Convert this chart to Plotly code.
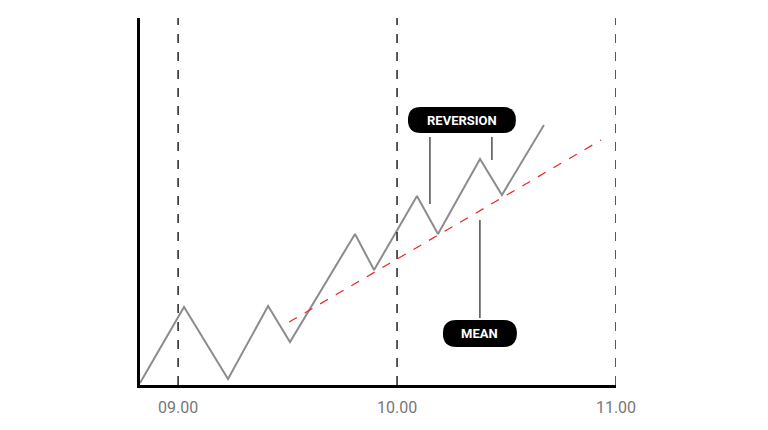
import plotly.graph_objects as go

# data
price_x = [8.826, 9.027, 9.228, 9.411, 9.511, 9.808, 9.895, 10.091, 10.187, 10.379, 10.479, 10.671]
price_y = [2, 78, 6, 79, 43, 151, 115, 189, 151, 226, 190, 260]
mean_x = [9.507, 10.932]
mean_y = [63, 245]
tick_vals = [9, 10, 11]
tick_text = ["09.00", "10.00", "11.00"]

X0, PXU = 8.826, 219.0
def dx(px): return X0 + (px - 140) / PXU
def dy(py): return 385 - py

fig = go.Figure()
fig.add_trace(go.Scatter(x=price_x, y=price_y, mode="lines",
                         line=dict(color="#8c8c8c", width=2), hoverinfo="skip"))
fig.add_trace(go.Scatter(x=mean_x, y=mean_y, mode="lines",
                         line=dict(color="#e8262a", width=1.2, dash="dash"), hoverinfo="skip"))

shapes = []
for t in tick_vals:
    shapes.append(dict(type="line", x0=t, x1=t, y0=0, y1=1, yref="paper",
                       line=dict(color="#222", width=1.5, dash="dash")))

def pill(x0, y0, x1, y1):
    r = (y1 - y0) / 2
    p = (f"M {dx(x0+r)},{dy(y0)} L {dx(x1-r)},{dy(y0)} "
         f"Q {dx(x1)},{dy(y0)} {dx(x1)},{dy(y0+r)} Q {dx(x1)},{dy(y1)} {dx(x1-r)},{dy(y1)} "
         f"L {dx(x0+r)},{dy(y1)} Q {dx(x0)},{dy(y1)} {dx(x0)},{dy(y0+r)} "
         f"Q {dx(x0)},{dy(y0)} {dx(x0+r)},{dy(y0)} Z")
    return dict(type="path", path=p, fillcolor="black", line=dict(width=0), layer="above")

shapes.append(pill(408, 107, 516, 133))
shapes.append(pill(443, 320, 517, 347))
for (x, ya, yb) in [(430, 137, 204), (492, 137, 160), (480, 220, 318)]:
    shapes.append(dict(type="line", x0=dx(x), x1=dx(x), y0=dy(ya), y1=dy(yb),
                       line=dict(color="#222", width=1.2)))

fig.update_layout(
    width=768, height=430, margin=dict(l=132, r=160, t=10, b=53),
    plot_bgcolor="white", paper_bgcolor="white", showlegend=False,
    shapes=shapes,
    annotations=[
        dict(x=dx(462), y=dy(120), text="<b>REVERSION</b>", showarrow=False,
             font=dict(family="Roboto", size=13, color="white")),
        dict(x=dx(480), y=dy(333.5), text="<b>MEAN</b>", showarrow=False,
             font=dict(family="Roboto", size=13, color="white")),
    ],
    xaxis=dict(range=[X0, 11.0], tickvals=tick_vals, ticktext=tick_text, showgrid=False,
               zeroline=False, showline=True, linecolor="black", linewidth=3,
               tickfont=dict(family="Roboto", size=16, color="#777777"), ticks="", ticklabelstandoff=6),
    yaxis=dict(range=[0, 367], showgrid=False, zeroline=False, showline=True,
               linecolor="black", linewidth=3, showticklabels=False, ticks=""),
)
fig.write_html("out.html")
